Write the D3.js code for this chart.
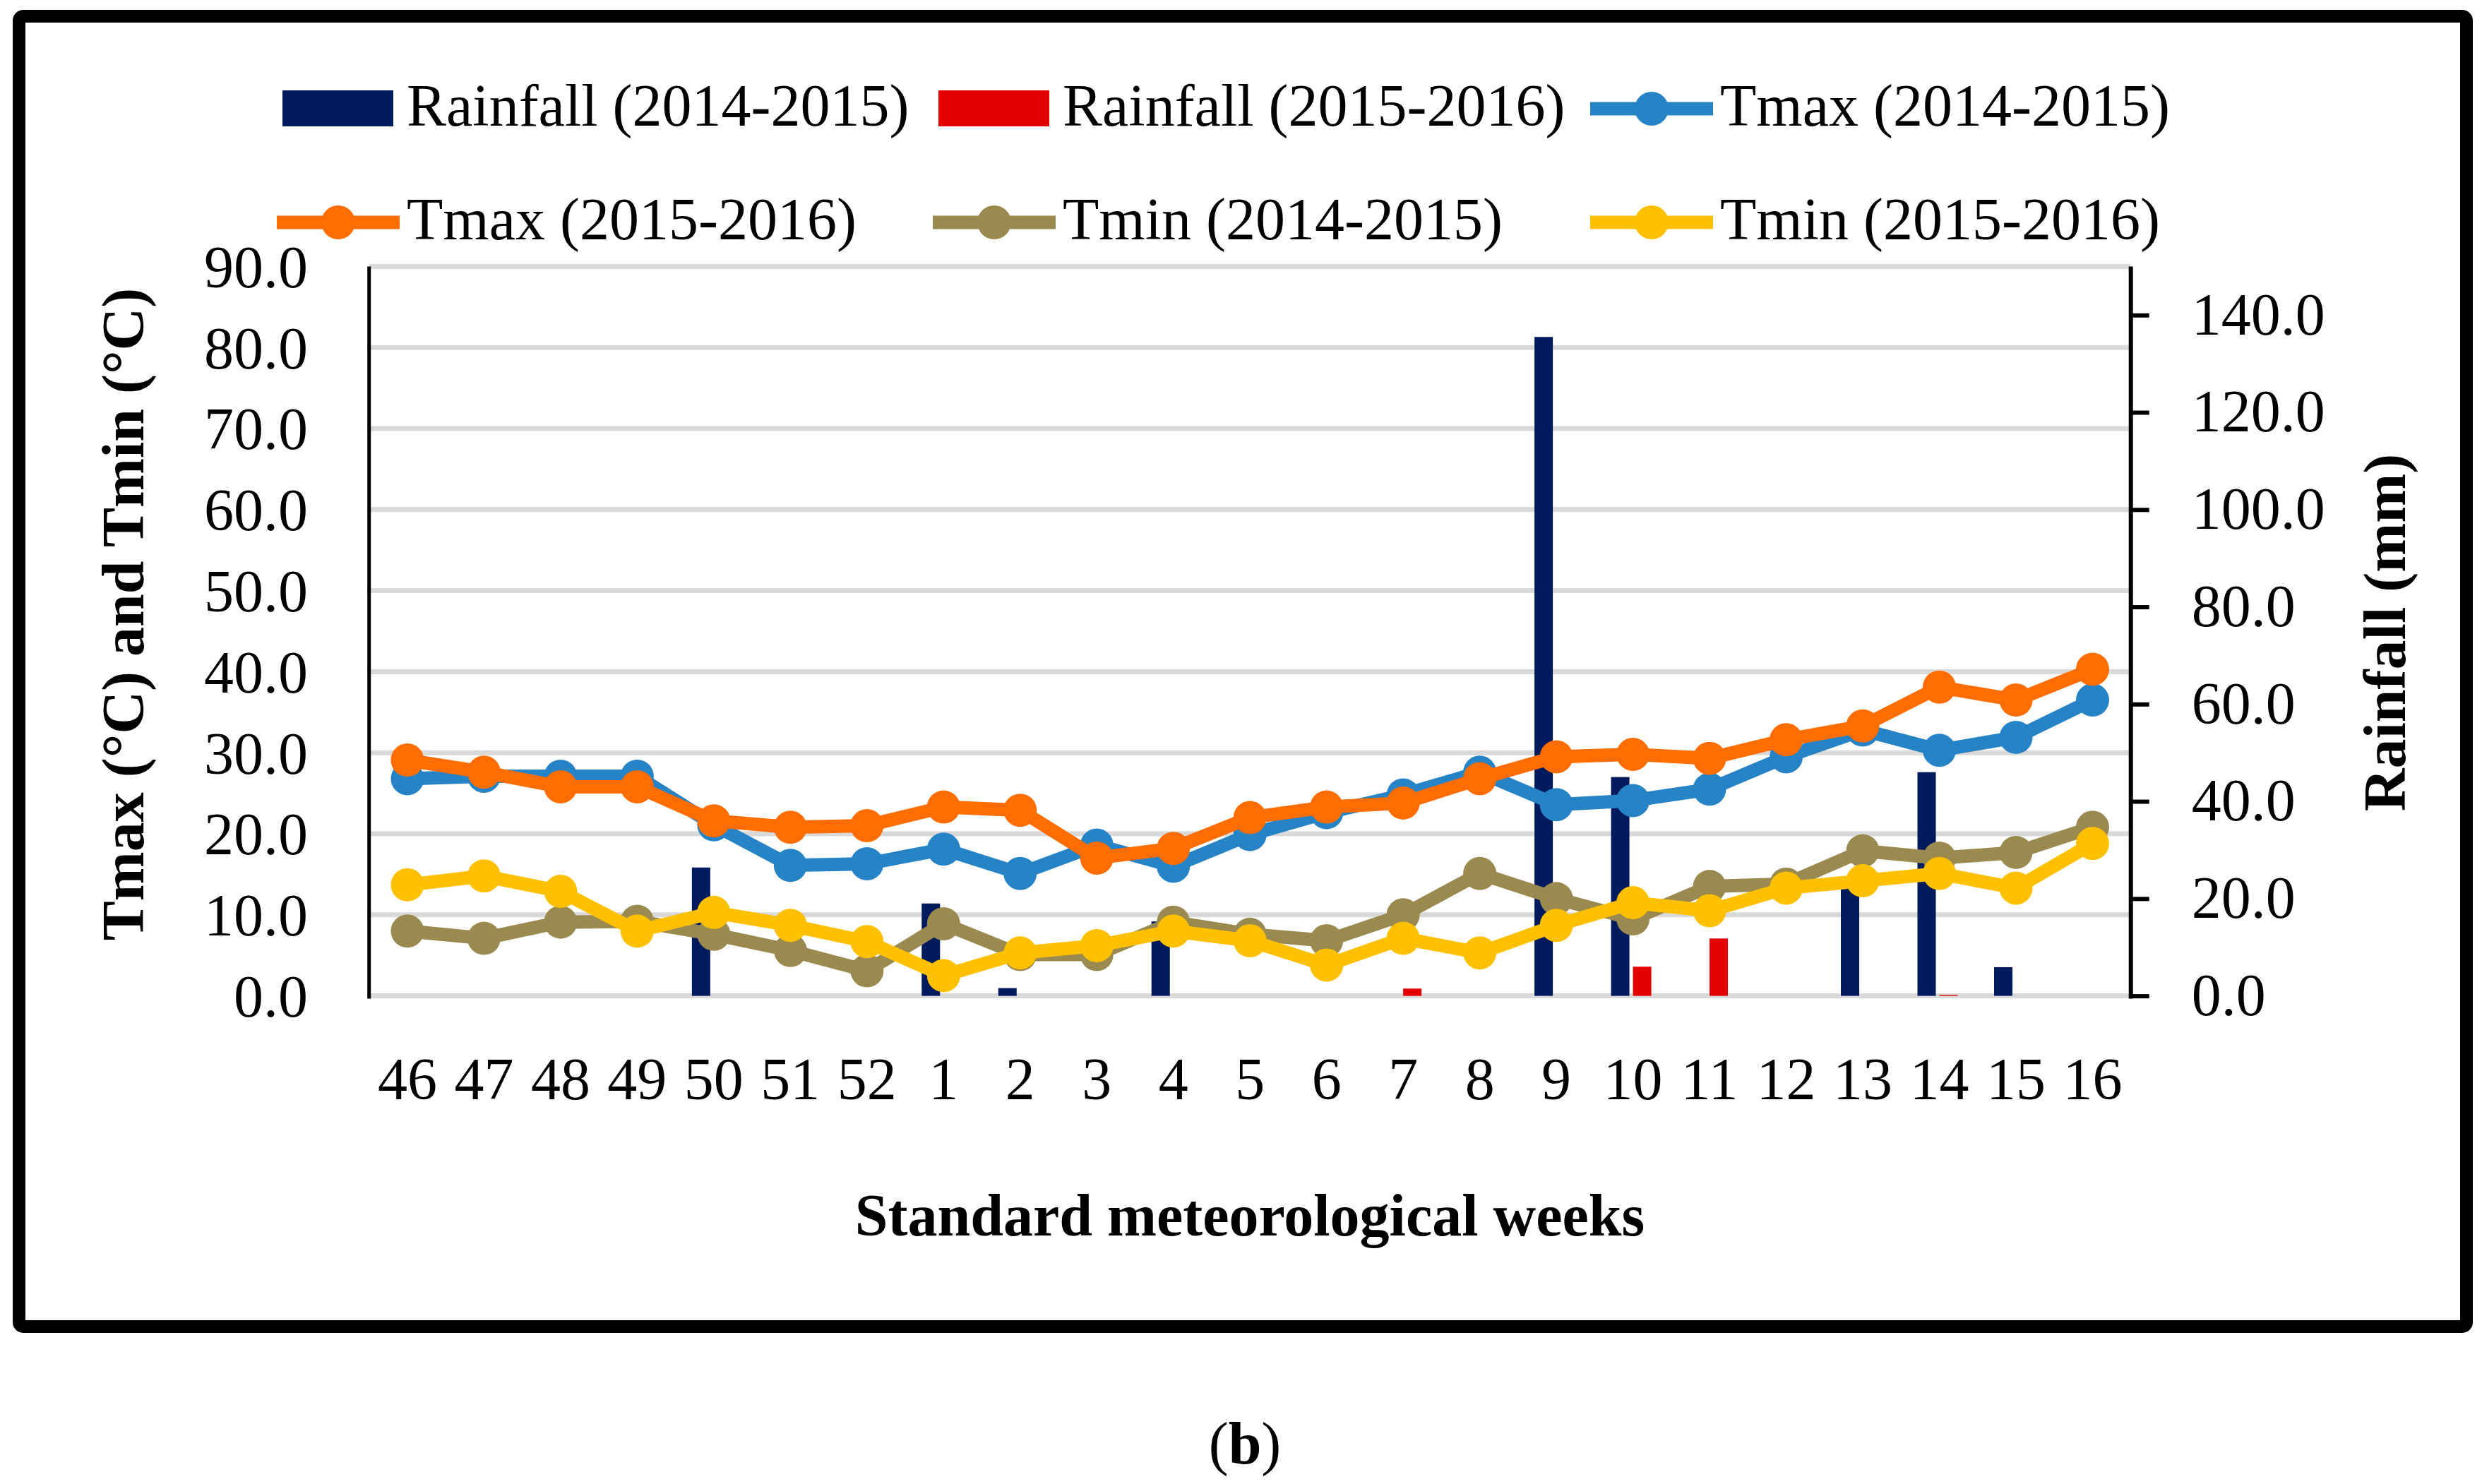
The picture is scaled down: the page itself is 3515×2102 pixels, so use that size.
<!DOCTYPE html>
<html>
<head>
<meta charset="utf-8">
<script src="https://cdn.jsdelivr.net/npm/d3@7"></script>
<style>
  html, body { margin: 0; padding: 0; background: #fff; }
  svg { display: block; }
  text { font-family: "Liberation Serif", "Times New Roman", serif; fill: #000; }
</style>
</head>
<body>
<svg id="chart" width="3515" height="2102"></svg>
<script>
// ---------- DATA ----------
const weeks = ["46","47","48","49","50","51","52","1","2","3","4","5","6","7","8","9","10","11","12","13","14","15","16"];
const rain1415 = [0,0,0,0,26.4,0,0,19.0,1.6,0,15.3,0,0,0,0,135.5,45.0,0,0,24.0,46.0,5.9,0];
const rain1516 = [0,0,0,0,0,0,0,0,0,0,0,0,0,1.5,0,0,6.0,11.8,0,0,0.2,0,0];
const tmax1415 = [26.8,27.1,27.1,27.1,21.1,16.1,16.3,18.1,15.1,18.6,16.0,19.9,22.6,24.8,27.6,23.6,24.1,25.5,29.5,32.8,30.3,31.9,36.5];
const tmax1516 = [29.1,27.6,25.8,25.8,21.6,20.8,21.0,23.3,22.9,17.0,18.2,22.0,23.3,23.8,26.8,29.5,29.8,29.3,31.6,33.3,38.1,36.5,40.3];
const tmin1415 = [8.0,7.1,9.1,9.2,7.6,5.6,3.1,8.9,5.1,5.1,9.1,7.6,6.8,10.0,15.1,12.0,9.5,13.5,13.8,17.9,17.0,17.7,20.8];
const tmin1516 = [13.7,14.8,12.9,8.0,10.3,8.7,6.7,2.5,5.3,6.2,8.0,6.8,3.8,7.1,5.3,8.7,11.5,10.5,13.3,14.2,15.1,13.3,18.8];
const leftTicks = [0,10,20,30,40,50,60,70,80,90];
const rightTicks = [0,20,40,60,80,100,120,140];

const barSeries = [
  {key:"r1", name:"Rainfall (2014-2015)", values: rain1415, color:"#001a5e"},
  {key:"r2", name:"Rainfall (2015-2016)", values: rain1516, color:"#e30000"}
];
const lineSeries = [
  {name:"Tmax (2014-2015)", values: tmax1415, color:"#2683c6"},
  {name:"Tmax (2015-2016)", values: tmax1516, color:"#ff6d00"},
  {name:"Tmin (2014-2015)", values: tmin1415, color:"#9a8a50"},
  {name:"Tmin (2015-2016)", values: tmin1516, color:"#ffc000"}
];

// ---------- LAYOUT ----------
const W = 3515, H = 2102;
const L = 522.7, R = 3017.7, T = 377.4, B = 1410.6;
const FS = 84;

const svg = d3.select("#chart");
svg.append("rect").attr("width", W).attr("height", H).attr("fill", "#fff");

// frame
svg.append("rect").attr("x", 27).attr("y", 23).attr("width", 3466).attr("height", 1856)
  .attr("rx", 6).attr("fill", "none").attr("stroke", "#000").attr("stroke-width", 18);

const x = d3.scaleBand().domain(weeks).range([L, R]).paddingInner(0).paddingOuter(0);
const xc = d => x(d) + x.bandwidth() / 2;
const xSub = d3.scaleBand().domain(["r1","r2"]).range([-31, 26]).paddingInner(5/31);
const yL = d3.scaleLinear().domain([0, 90]).range([B, T]);
const yR = d3.scaleLinear().domain([0, 150]).range([B, T]);

// gridlines
svg.append("g").selectAll("line").data(leftTicks).join("line")
  .attr("x1", L).attr("x2", R)
  .attr("y1", d => yL(d)).attr("y2", d => yL(d))
  .attr("stroke", "#d9d9d9").attr("stroke-width", 7);

// bars
barSeries.forEach(s => {
  svg.append("g").selectAll("rect").data(weeks.map((w, i) => ({w, v: s.values[i]}))).join("rect")
    .attr("x", d => xc(d.w) + xSub(s.key))
    .attr("width", xSub.bandwidth())
    .attr("y", d => yR(d.v))
    .attr("height", d => yR(0) - yR(d.v))
    .attr("fill", s.color);
});

// left axis line
svg.append("line").attr("x1", L).attr("x2", L).attr("y1", T).attr("y2", B + 4)
  .attr("stroke", "#000").attr("stroke-width", 5);

// left tick labels
svg.append("g").selectAll("text").data(leftTicks).join("text")
  .attr("x", 436).attr("y", d => yL(d)).attr("dy", "0.35em")
  .attr("text-anchor", "end").attr("font-size", FS)
  .text(d => d3.format(".1f")(d));

// right axis
const rAxis = d3.axisRight(yR).tickValues(rightTicks).tickSize(26).tickPadding(60)
  .tickFormat(d3.format(".1f"));
const rg = svg.append("g").attr("transform", `translate(${R},0)`).call(rAxis);
rg.select(".domain").attr("d", `M0,${T}V${B + 4}`).attr("stroke", "#000").attr("stroke-width", 6);
rg.selectAll(".tick line").attr("stroke", "#000").attr("stroke-width", 6);
rg.selectAll(".tick text").attr("font-size", FS)
  .attr("font-family", "Liberation Serif, serif").attr("fill", "#000");

// lines + markers
const lineGen = d3.line().x((d, i) => xc(weeks[i])).y(d => yL(d));
lineSeries.forEach(s => {
  const g = svg.append("g");
  g.append("path").datum(s.values).attr("d", lineGen)
    .attr("fill", "none").attr("stroke", s.color).attr("stroke-width", 19)
    .attr("stroke-linejoin", "round").attr("stroke-linecap", "round");
  g.selectAll("circle").data(s.values).join("circle")
    .attr("cx", (d, i) => xc(weeks[i])).attr("cy", d => yL(d))
    .attr("r", 23.5).attr("fill", s.color);
});

// x tick labels
svg.append("g").selectAll("text").data(weeks).join("text")
  .attr("x", d => xc(d)).attr("y", 1557).attr("text-anchor", "middle")
  .attr("font-size", FS).text(d => d);

// axis titles
svg.append("text").attr("x", 1770).attr("y", 1750).attr("text-anchor", "middle")
  .attr("font-size", FS).attr("font-weight", "bold").text("Standard meteorological weeks");
svg.append("text").attr("transform", "translate(174,870) rotate(-90)").attr("dy", "0.35em")
  .attr("text-anchor", "middle").attr("font-size", FS).attr("font-weight", "bold")
  .text("Tmax (°C) and Tmin (°C)");
svg.append("text").attr("transform", "translate(3377,896) rotate(-90)").attr("dy", "0.35em")
  .attr("text-anchor", "middle").attr("font-size", FS).attr("font-weight", "bold")
  .text("Rainfall (mm)");

// legend
const legendItems = [
  {type:"bar", s: barSeries[0], cx: 479, cy: 154},
  {type:"bar", s: barSeries[1], cx: 1408, cy: 154},
  {type:"line", s: lineSeries[0], cx: 2339, cy: 154},
  {type:"line", s: lineSeries[1], cx: 479, cy: 315},
  {type:"line", s: lineSeries[2], cx: 1408, cy: 315},
  {type:"line", s: lineSeries[3], cx: 2339, cy: 315}
];
const lg = svg.append("g");
legendItems.forEach(it => {
  if (it.type === "bar") {
    lg.append("rect").attr("x", it.cx - 79).attr("y", it.cy - 26).attr("width", 157).attr("height", 51)
      .attr("fill", it.s.color);
  } else {
    lg.append("line").attr("x1", it.cx - 87).attr("x2", it.cx + 87).attr("y1", it.cy).attr("y2", it.cy)
      .attr("stroke", it.s.color).attr("stroke-width", 19);
    lg.append("circle").attr("cx", it.cx).attr("cy", it.cy).attr("r", 24).attr("fill", it.s.color);
  }
  lg.append("text").attr("x", it.cx + 97).attr("y", it.cy + 24).attr("font-size", FS).text(it.s.name);
});

// caption
const cap = svg.append("text").attr("x", 1763).attr("y", 2073).attr("text-anchor", "middle").attr("font-size", FS);
cap.append("tspan").text("(");
cap.append("tspan").attr("font-weight", "bold").text("b");
cap.append("tspan").text(")");
</script>
</body>
</html>
